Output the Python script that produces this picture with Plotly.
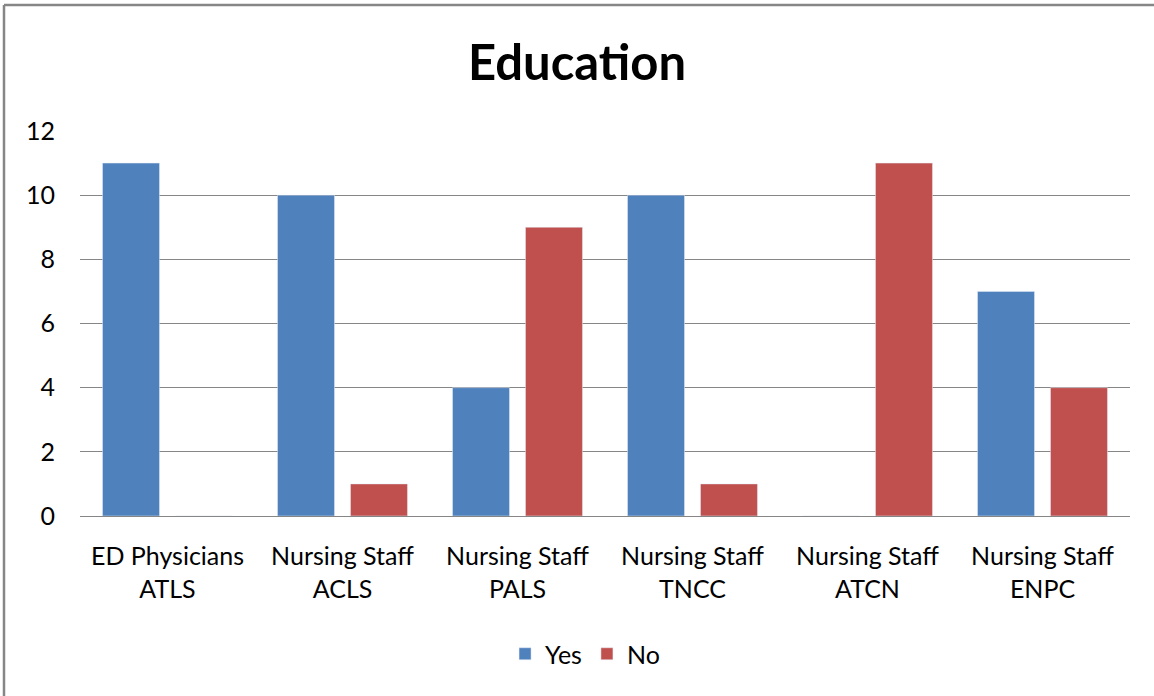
import plotly.graph_objects as go

categories = ["ED Physicians<br>ATLS", "Nursing Staff<br>ACLS", "Nursing Staff<br>PALS",
              "Nursing Staff<br>TNCC", "Nursing Staff<br>ATCN", "Nursing Staff<br>ENPC"]
yes_vals = [11, 10, 4, 10, 0, 7]
no_vals = [0, 1, 9, 1, 11, 4]

W, H = 1154, 696
ML, MR, MT, MB = 80, 24, 131, 180
PW, PH = W - ML - MR, H - MT - MB

fig = go.Figure()
fig.add_trace(go.Bar(x=categories, y=yes_vals, name="Yes", marker_color="#4F81BD"))
fig.add_trace(go.Bar(x=categories, y=no_vals, name="No", marker_color="#C0504D"))

# chart frame: only the top and left edges fall inside the picture
fig.add_shape(type="line", xref="paper", yref="paper",
              x0=(4 - ML) / PW, x1=(W + 10 - ML) / PW,
              y0=(H - MB - 5) / PH, y1=(H - MB - 5) / PH,
              line=dict(color="#868686", width=2.5), layer="below")
fig.add_shape(type="line", xref="paper", yref="paper",
              x0=(4 - ML) / PW, x1=(4 - ML) / PW,
              y0=(H - MB - 5) / PH, y1=(H - MB - H - 10) / PH,
              line=dict(color="#868686", width=2.5), layer="below")

fig.update_layout(
    width=W, height=H,
    margin=dict(l=ML, r=MR, t=MT, b=MB),
    paper_bgcolor="white", plot_bgcolor="white",
    font=dict(family="Lato, Open Sans, sans-serif", size=25, color="#000000"),
    title=dict(text="<b>Education</b>", x=0.5, xanchor="center", y=1 - 63 / H, yanchor="middle",
               font=dict(size=49, color="#000000")),
    barmode="group", bargap=0.166, bargroupgap=0.219,
    showlegend=True,
    legend=dict(orientation="h", x=0.481, xanchor="center", y=-(654 - 516) / PH, yanchor="middle",
                font=dict(size=25), itemwidth=30, traceorder="normal"),
)
fig.update_yaxes(range=[0, 12], dtick=2, showgrid=True, gridcolor="#868686", gridwidth=1,
                 zeroline=False, showline=False, ticks="", ticklabelstandoff=24)
fig.update_xaxes(showline=True, linecolor="#868686", linewidth=1, ticks="", ticklabelstandoff=18)

fig.write_html("out.html", config={"displayModeBar": False},
               post_script="document.body.style.margin='0';")
